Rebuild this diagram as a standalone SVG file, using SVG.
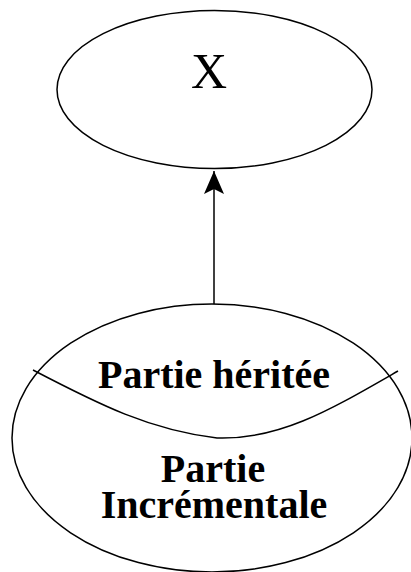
<svg xmlns="http://www.w3.org/2000/svg" width="411" height="572" viewBox="0 0 411 572">
<style>
.shape{fill:#fff;stroke:#000;stroke-width:1.5}
.lbl{font-family:"Liberation Serif","Times New Roman",serif;fill:#000;text-anchor:middle}
.b{font-weight:bold;font-size:40px}
</style>
<defs>
<marker id="ah" markerWidth="24" markerHeight="22" refX="23" refY="11" orient="auto" markerUnits="userSpaceOnUse" viewBox="0 0 24 22">
<path d="M23 11 L0 1 L5 11 L0 21 Z" fill="#000"/>
</marker>
</defs>
<rect width="411" height="572" fill="#fff"/>
<g id="nodeX">
<ellipse class="shape" cx="214.5" cy="89.5" rx="157.5" ry="79"/>
<text class="lbl" x="209" y="88" font-size="50">X</text>
</g>
<g id="nodeComposite">
<ellipse class="shape" cx="212" cy="438" rx="200" ry="134"/>
<path d="M33 370 C100 405 150 430 217 438 C280 440 330 410 398 371" fill="none" stroke="#000" stroke-width="1.5"/>
<text class="lbl b" x="214" y="388">Partie héritée</text>
<text class="lbl b" x="213" y="482">Partie</text>
<text class="lbl b" x="214" y="518">Incrémentale</text>
</g>
<g id="connectors">
<line x1="214" y1="304" x2="214" y2="171" stroke="#000" stroke-width="1.5" marker-end="url(#ah)"/>
</g>
</svg>
